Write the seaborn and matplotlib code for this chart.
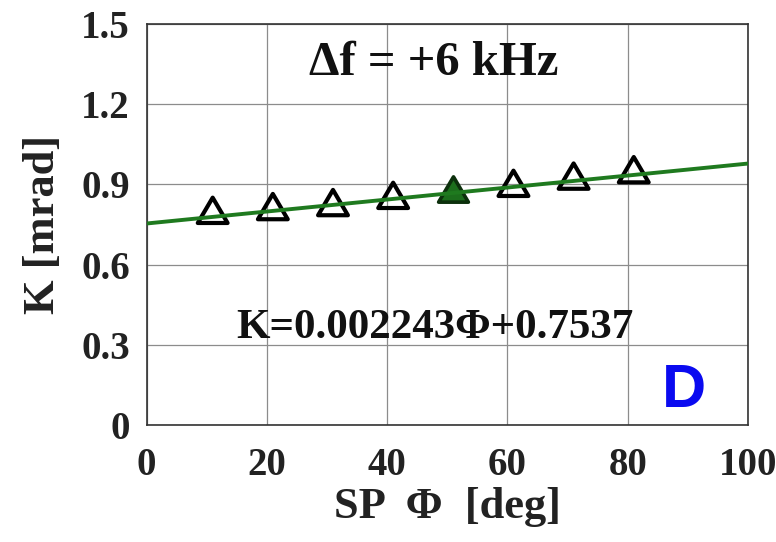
import numpy as np
import pandas as pd
import matplotlib
matplotlib.use("Agg")
import matplotlib.pyplot as plt
from matplotlib.path import Path
import seaborn as sns

phi = [11, 21, 31, 41, 51, 61, 71, 81]
K = [0.803, 0.817, 0.832, 0.859, 0.882, 0.904, 0.931, 0.955]
filled = [False, False, False, False, True, False, False, False]
slope = 0.002243
intercept = 0.7537
fit_x = [0, 100]
xticks = [0, 20, 40, 60, 80, 100]
yticks = [0, 0.3, 0.6, 0.9, 1.2, 1.5]
ytick_labels = ["0", "0.3", "0.6", "0.9", "1.2", "1.5"]

sns.set_style("white")
plt.rcParams['font.family'] = ['Liberation Serif', 'DejaVu Serif']
plt.rcParams['font.weight'] = 'bold'

fig = plt.figure(figsize=(7.76, 5.42), dpi=100)
ax = fig.add_axes([0.1888, 0.2159, 0.7752, 0.7398])

df = pd.DataFrame({"phi": phi, "K": K, "filled": filled})
fit_df = pd.DataFrame({"phi": fit_x, "K": [slope * x + intercept for x in fit_x]})

tri = Path([(-1, -0.85), (1, -0.85), (0, 0.85), (-1, -0.85)],
           [Path.MOVETO, Path.LINETO, Path.LINETO, Path.CLOSEPOLY])

open_df = df[~df["filled"]]
fill_df = df[df["filled"]]
sns.scatterplot(data=open_df, x="phi", y="K", marker=tri, s=460, facecolor="none",
                edgecolor="black", linewidth=3.0, ax=ax, zorder=3)
sns.scatterplot(data=fill_df, x="phi", y="K", marker=tri, s=460, color="#1c6e1c",
                edgecolor="#0c300c", linewidth=2.6, ax=ax, zorder=3)
sns.lineplot(data=fit_df, x="phi", y="K", color="#1f7a1f", linewidth=2.8, ax=ax, zorder=4)

ax.set_xlim(0, 100)
ax.set_ylim(0, 1.5)
ax.set_xticks(xticks)
ax.set_yticks(yticks)
ax.set_yticklabels(ytick_labels)
ax.grid(True, color="#8c8c8c", linewidth=0.9)
ax.tick_params(direction="in", length=5, labelsize=28, width=1, colors="#222222")
ax.tick_params(axis="x", pad=16)
ax.tick_params(axis="y", pad=12)
for lbl in ax.get_xticklabels() + ax.get_yticklabels():
    lbl.set_fontweight("bold")
for sp in ax.spines.values():
    sp.set_color("#333333")
    sp.set_linewidth(1.2)

ax.set_xlabel("SP  \u03a6  [deg]", fontsize=32, fontweight="bold", labelpad=2,
              color="#222222")
ax.set_ylabel("K [mrad]", fontsize=32, fontweight="bold", labelpad=13,
              color="#222222")

ax.text(47.8, 1.309, "\u0394f = +6 kHz", fontsize=35, fontweight="bold",
        ha="center", va="baseline", color="#111111")
ax.text(48.0, 0.325, "K=0.002243\u03a6+0.7537", fontsize=31, fontweight="bold",
        ha="center", va="baseline", color="#111111")
ax.text(89.3, 0.067, "D", fontsize=44, fontweight="bold", color="#0a0af0",
        ha="center", va="baseline", family=["Liberation Sans", "DejaVu Sans"])

fig.savefig("out.png", dpi=100)
